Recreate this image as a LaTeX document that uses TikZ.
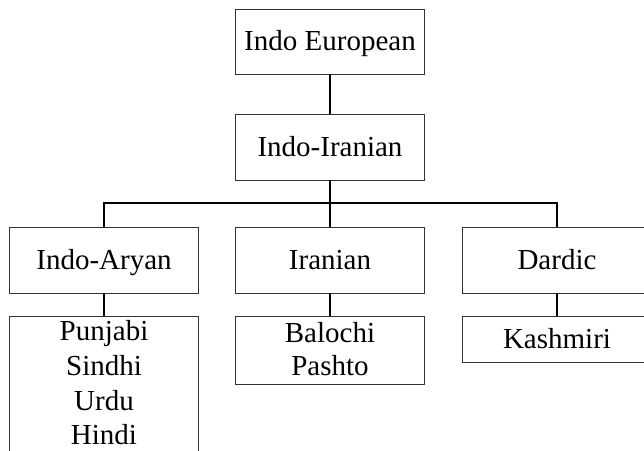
\documentclass[tikz,border=0pt]{standalone}
\usepackage{fontspec}
\setmainfont{Liberation Serif}
\begin{document}
\begin{tikzpicture}[x=1pt,y=-1pt,
  box/.style={draw=black!80, line width=0.8pt, rectangle, inner sep=0pt,
    minimum width=189pt, text height=18.5pt, text depth=0pt,
    font=\fontsize{29}{35}\selectfont},
  txt/.style={inner sep=0pt, align=center, anchor=north},
  conn/.style={line width=1.4pt, black}]
\useasboundingbox (0,0) rectangle (644,450);
\clip (0,0) rectangle (644,450);
% boxes
\node[box, minimum height=65pt] (ie) at (330,41.5) {Indo European};
\node[box, minimum height=66pt] (ii) at (330,147) {Indo-Iranian};
\node[box, minimum height=66pt] (ia) at (104,260) {Indo-Aryan};
\node[box, minimum height=66pt] (ir) at (330,260) {Iranian};
\node[box, minimum height=66pt] (da) at (557,260) {Dardic};
\node[box, minimum height=170pt, anchor=north] (pu) at (104,316) {};
\node[box, minimum height=68pt] (ba) at (330,350) {};
\node[box, minimum height=46pt] (ka) at (557,339) {Kashmiri};
% multi-line texts
\node[txt, font=\fontsize{29}{34.7}\selectfont] (putext) at (104,320.5) {Punjabi\\Sindhi\\Urdu\\Hindi};
\node[txt, font=\fontsize{29}{33}\selectfont] (batext) at (330,322) {Balochi\\Pashto};
% connectors
\coordinate (bus) at (330,203);
\draw[conn] (ie) -- (ii);
\draw[conn] (ii.south) -- (ir.north);
\draw[conn] (ia.north) |- (bus) -| (da.north);
\draw[conn] (ia.south) -- (pu.north);
\draw[conn] (ir.south) -- (ba.north);
\draw[conn] (da.south) -- (ka.north);
\end{tikzpicture}
\end{document}
